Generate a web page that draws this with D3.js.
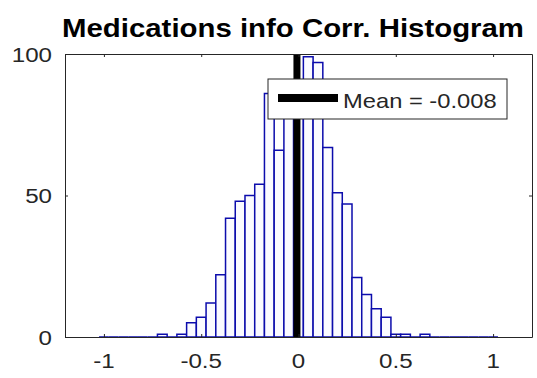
<!DOCTYPE html>
<html>
<head>
<meta charset="utf-8">
<script src="https://cdn.jsdelivr.net/npm/d3@7"></script>
<style>
  html, body { margin: 0; padding: 0; background: #fff; }
  svg { display: block; }
  text { font-family: "Liberation Sans", Arial, Helvetica, sans-serif; }
</style>
</head>
<body>
<svg id="chart" width="537" height="378"></svg>
<script>
// Histogram of correlation values: bin centres every 0.05 from -1 to 1
const binCenters = d3.range(-20, 21).map(i => +(i * 0.05).toFixed(2));
const binCounts = [
  0, 0, 0, 0, 0, 0, 1, 0, 1, 5,        // -1.00 .. -0.55
  7, 12, 22, 42, 48, 50, 54, 86, 66, 84, // -0.50 .. -0.05
  89,                                    //  0.00
  99, 97, 67, 51, 47, 21, 15, 10, 7, 1,  //  0.05 .. 0.50
  1, 0, 1, 0, 0, 0, 0, 0, 0, 0           //  0.55 .. 1.00
];
const binWidth = 0.05;
const meanValue = -0.008;
const xTicks = [-1, -0.5, 0, 0.5, 1];
const yTicks = [0, 50, 100];
const titleText = "Medications info Corr. Histogram";
const legendText = "Mean = -0.008";

const bins = binCenters.map((c, i) => ({ c, n: binCounts[i] }));

const svg = d3.select("#chart");
const frame = { left: 65, right: 532, top: 54, bottom: 337 };

const x = d3.scaleLinear().domain([-1.2, 1.2]).range([frame.left, frame.right]);
const y = d3.scaleLinear().domain([0, 100]).range([frame.bottom, frame.top]);

const axisColor = "#262626";
const barColor = "#0c0cac";
const sx = 1.15; // horizontal glyph stretch of the labels

// bars (open outlines; empty bins collapse to a line along zero)
svg.append("g")
  .selectAll("path")
  .data(bins)
  .join("path")
  .attr("d", d => {
    const x0 = x(d.c - binWidth / 2), x1 = x(d.c + binWidth / 2);
    const y0 = y(0), y1 = y(d.n);
    return `M${x0},${y0}V${y1}H${x1}V${y0}Z`;
  })
  .attr("fill", "#fbfbff")
  .attr("stroke", barColor)
  .attr("stroke-width", 1.5);

// mean line
svg.append("line")
  .attr("x1", x(meanValue)).attr("x2", x(meanValue))
  .attr("y1", y(0)).attr("y2", y(100))
  .attr("stroke", "#000")
  .attr("stroke-width", 7);

// axes box with inward ticks on all sides
const tickLen = 3;
const bottomAxis = d3.axisBottom(x).tickValues(xTicks).tickSizeInner(-tickLen).tickSizeOuter(0).tickFormat("");
const topAxis = d3.axisTop(x).tickValues(xTicks).tickSizeInner(-tickLen).tickSizeOuter(0).tickFormat("");
const leftAxis = d3.axisLeft(y).tickValues(yTicks).tickSizeInner(-tickLen).tickSizeOuter(0).tickFormat("");
const rightAxis = d3.axisRight(y).tickValues(yTicks).tickSizeInner(-tickLen).tickSizeOuter(0).tickFormat("");

[[bottomAxis, `translate(0,${frame.bottom})`], [topAxis, `translate(0,${frame.top})`],
 [leftAxis, `translate(${frame.left},0)`], [rightAxis, `translate(${frame.right},0)`]]
  .forEach(([ax, tr]) => {
    const g = svg.append("g").attr("transform", tr).call(ax);
    g.select(".domain").attr("stroke", axisColor);
    g.selectAll(".tick line").attr("stroke", axisColor);
  });

// tick labels
function label(parent, px, py, txt, anchor, size) {
  parent.append("text")
    .attr("transform", `translate(${px},${py}) scale(${sx},1)`)
    .attr("text-anchor", anchor)
    .attr("font-size", size)
    .attr("fill", axisColor)
    .text(txt);
}
const labels = svg.append("g");
xTicks.forEach(v => label(labels, x(v), frame.bottom + 31, String(v), "middle", 21));
yTicks.forEach(v => label(labels, frame.left - 13, y(v) + 7.5, String(v), "end", 21));

// title
svg.append("text")
  .attr("x", 62)
  .attr("y", 37)
  .attr("font-size", 25)
  .attr("font-weight", "bold")
  .attr("fill", "#000")
  .attr("textLength", 462)
  .attr("lengthAdjust", "spacingAndGlyphs")
  .text(titleText);

// legend
const lg = svg.append("g").attr("transform", `translate(${frame.right - 25},${frame.top + 25})`);
lg.append("rect")
  .attr("x", -239).attr("y", 0)
  .attr("width", 239).attr("height", 40)
  .attr("fill", "#fff")
  .attr("stroke", axisColor)
  .attr("stroke-width", 1);
lg.append("line")
  .attr("x1", -229).attr("x2", -169)
  .attr("y1", 19).attr("y2", 19)
  .attr("stroke", "#000")
  .attr("stroke-width", 8);
lg.append("text")
  .attr("transform", `translate(-164,29) scale(1.13,1)`)
  .attr("font-size", 21)
  .attr("fill", axisColor)
  .text(legendText);
</script>
</body>
</html>
